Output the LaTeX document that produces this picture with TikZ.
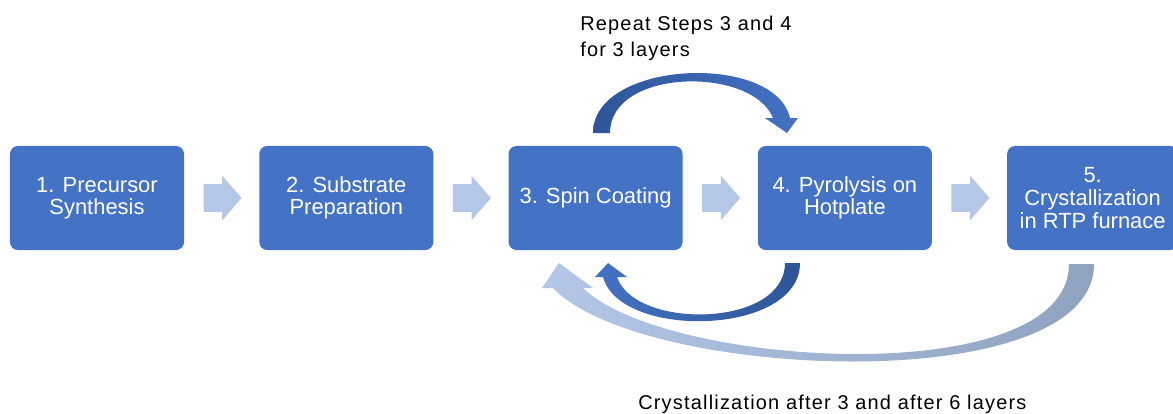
\documentclass[tikz,border=0pt]{standalone}
\usepackage{fontspec}
\setmainfont{Liberation Sans}
\newfontfamily\spacedfont[LetterSpace=6]{Liberation Sans}
\usetikzlibrary{positioning,shapes.arrows}

\definecolor{boxblue}{HTML}{4472C4}
\definecolor{darkblue}{HTML}{2F5597}
\definecolor{paleblue}{HTML}{B4C7E7}
\definecolor{greyblue}{HTML}{8FA2BF}

\begin{document}
\begin{tikzpicture}[x=0.025cm,y=-0.025cm,
		stepbox/.style={rectangle,rounded corners=0.2cm,fill=boxblue,text=white,minimum width=4.35cm,minimum height=2.6cm,align=center,inner sep=0pt,font=\fontsize{15.6}{15.6}\selectfont},
		chev/.style={single arrow,fill=paleblue,minimum height=0.95cm,inner xsep=0pt,inner ysep=0.3375cm,single arrow head extend=0.2125cm,single arrow tip angle=98},
		notetext/.style={inner sep=0pt,font=\spacedfont\fontsize{14.2}{18.5}\selectfont}]
	\useasboundingbox (0,0) rectangle (1173,414);
	\node[stepbox] (s1) at (97,198) {1. Precursor\\Synthesis};
	\node[chev,right=0.475cm of s1] (a1) {};
	\node[stepbox,right=0.425cm of a1] (s2) {2. Substrate\\Preparation};
	\node[chev,right=0.475cm of s2] (a2) {};
	\node[stepbox,right=0.425cm of a2] (s3) {3. Spin Coating};
	\node[chev,right=0.475cm of s3] (a3) {};
	\node[stepbox,right=0.425cm of a3] (s4) {4. Pyrolysis on\\Hotplate};
	\node[chev,right=0.475cm of s4] (a4) {};
	\node[stepbox,right=0.425cm of a4,minimum width=4.275cm,font=\fontsize{15.6}{16.4}\selectfont] (s5) {5.\\Crystallization\\in RTP furnace};
	\shade[left color=darkblue,right color=boxblue] (593,133) .. controls (593,60) and (775,52) .. (790,118) -- (798,118) -- (787,133) -- (765,118) -- (773,118) .. controls (752,66) and (610,68) .. (610,133) -- cycle;
	\shade[left color=boxblue,right color=darkblue] (800,263) .. controls (800,336) and (620,340) .. (603,277) -- (595,277) -- (608,263) -- (627,277) -- (617,277) .. controls (635,330) and (785,328) .. (785,263) -- cycle;
	\shade[left color=paleblue,right color=greyblue] (1094,264) .. controls (1094,400) and (640,380) .. (553,288) -- (542,288) -- (559,263) -- (593,288) -- (583,288) .. controls (665,368) and (1069,392) .. (1069,264) -- cycle;
	\node[notetext,anchor=north west,align=left] (rep) at (580,16) {Repeat Steps 3 and 4\\for 3 layers};
	\node[notetext,anchor=base west] (cry) at (638,409) {Crystallization after 3 and after 6 layers};
\end{tikzpicture}
\end{document}
